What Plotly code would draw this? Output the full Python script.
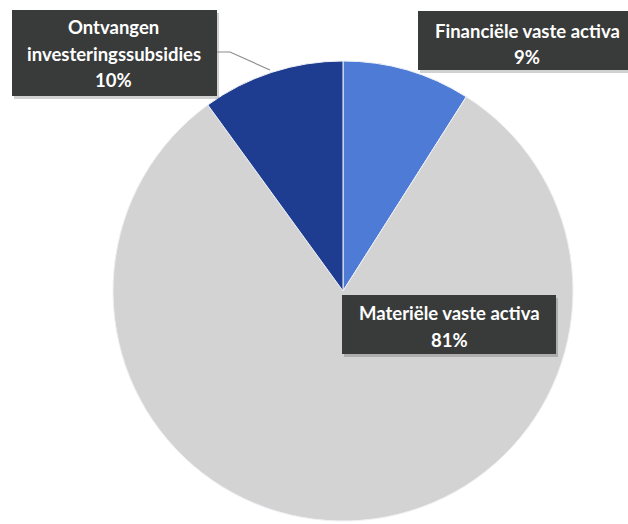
import plotly.graph_objects as go

# Balance composition (share of total, %)
categories = ["Financiële vaste activa", "Materiële vaste activa", "Ontvangen investeringssubsidies"]
values = [9, 81, 10]
colors = ["#4e7bd6", "#d3d3d3", "#1f3d90"]

W, H = 628, 524


def px(x):
    return x / W


def py(y):
    return 1 - y / H


fig = go.Figure(
    go.Pie(
        labels=categories,
        values=values,
        sort=False,
        direction="clockwise",
        rotation=0,
        marker=dict(colors=colors, line=dict(width=1, color="#eef0f4")),
        textinfo="none",
        hoverinfo="label+percent",
        domain=dict(x=[px(113), px(573)], y=[py(521), py(61)]),
        showlegend=False,
    )
)

# Label boxes: (x0, y0, x1, y1) in pixels, line centres, and split of the label text
boxes = [
    dict(rect=(12, 10, 217, 96), cx=114, lines_y=[27, 54, 80], split=["Ontvangen", "investeringssubsidies"], idx=2),
    dict(rect=(418, 11, 640, 70), cx=527, lines_y=[31, 57], split=["Financiële vaste activa"], idx=0),
    dict(rect=(342, 295, 556, 354), cx=449, lines_y=[313, 340], split=["Materiële vaste activa"], idx=1),
]

shapes = []
annotations = []
total = sum(values)
for b in boxes:
    x0, y0, x1, y1 = b["rect"]
    # soft drop shadow
    shapes.append(dict(type="rect", xref="paper", yref="paper",
                       x0=px(x0 + 2), x1=px(x1 + 2), y0=py(y1 + 3), y1=py(y0 + 3),
                       fillcolor="rgba(0,0,0,0.18)", line=dict(width=0), layer="above"))
    shapes.append(dict(type="rect", xref="paper", yref="paper",
                       x0=px(x0), x1=px(x1), y0=py(y1), y1=py(y0),
                       fillcolor="#393b3a", line=dict(width=0), layer="above"))
    pct = f"{round(values[b['idx']] / total * 100)}%"
    for text, ly in zip(b["split"] + [pct], b["lines_y"]):
        annotations.append(dict(x=px(b["cx"]), y=py(ly), xref="paper", yref="paper",
                                text=f"<b>{text}</b>", showarrow=False,
                                xanchor="center", yanchor="middle",
                                font=dict(family="Lato", size=18.5, color="white")))

# leader line from the subsidies label to its slice
shapes.append(dict(type="path", xref="paper", yref="paper",
                   path=f"M {px(217)},{py(52)} L {px(230)},{py(52)} L {px(270)},{py(70)}",
                   line=dict(color="#8c8c8c", width=1.2), layer="above"))

fig.update_layout(
    width=W, height=H,
    margin=dict(l=0, r=0, t=0, b=0),
    paper_bgcolor="white",
    plot_bgcolor="white",
    shapes=shapes,
    annotations=annotations,
)

fig.write_html("out.html")
